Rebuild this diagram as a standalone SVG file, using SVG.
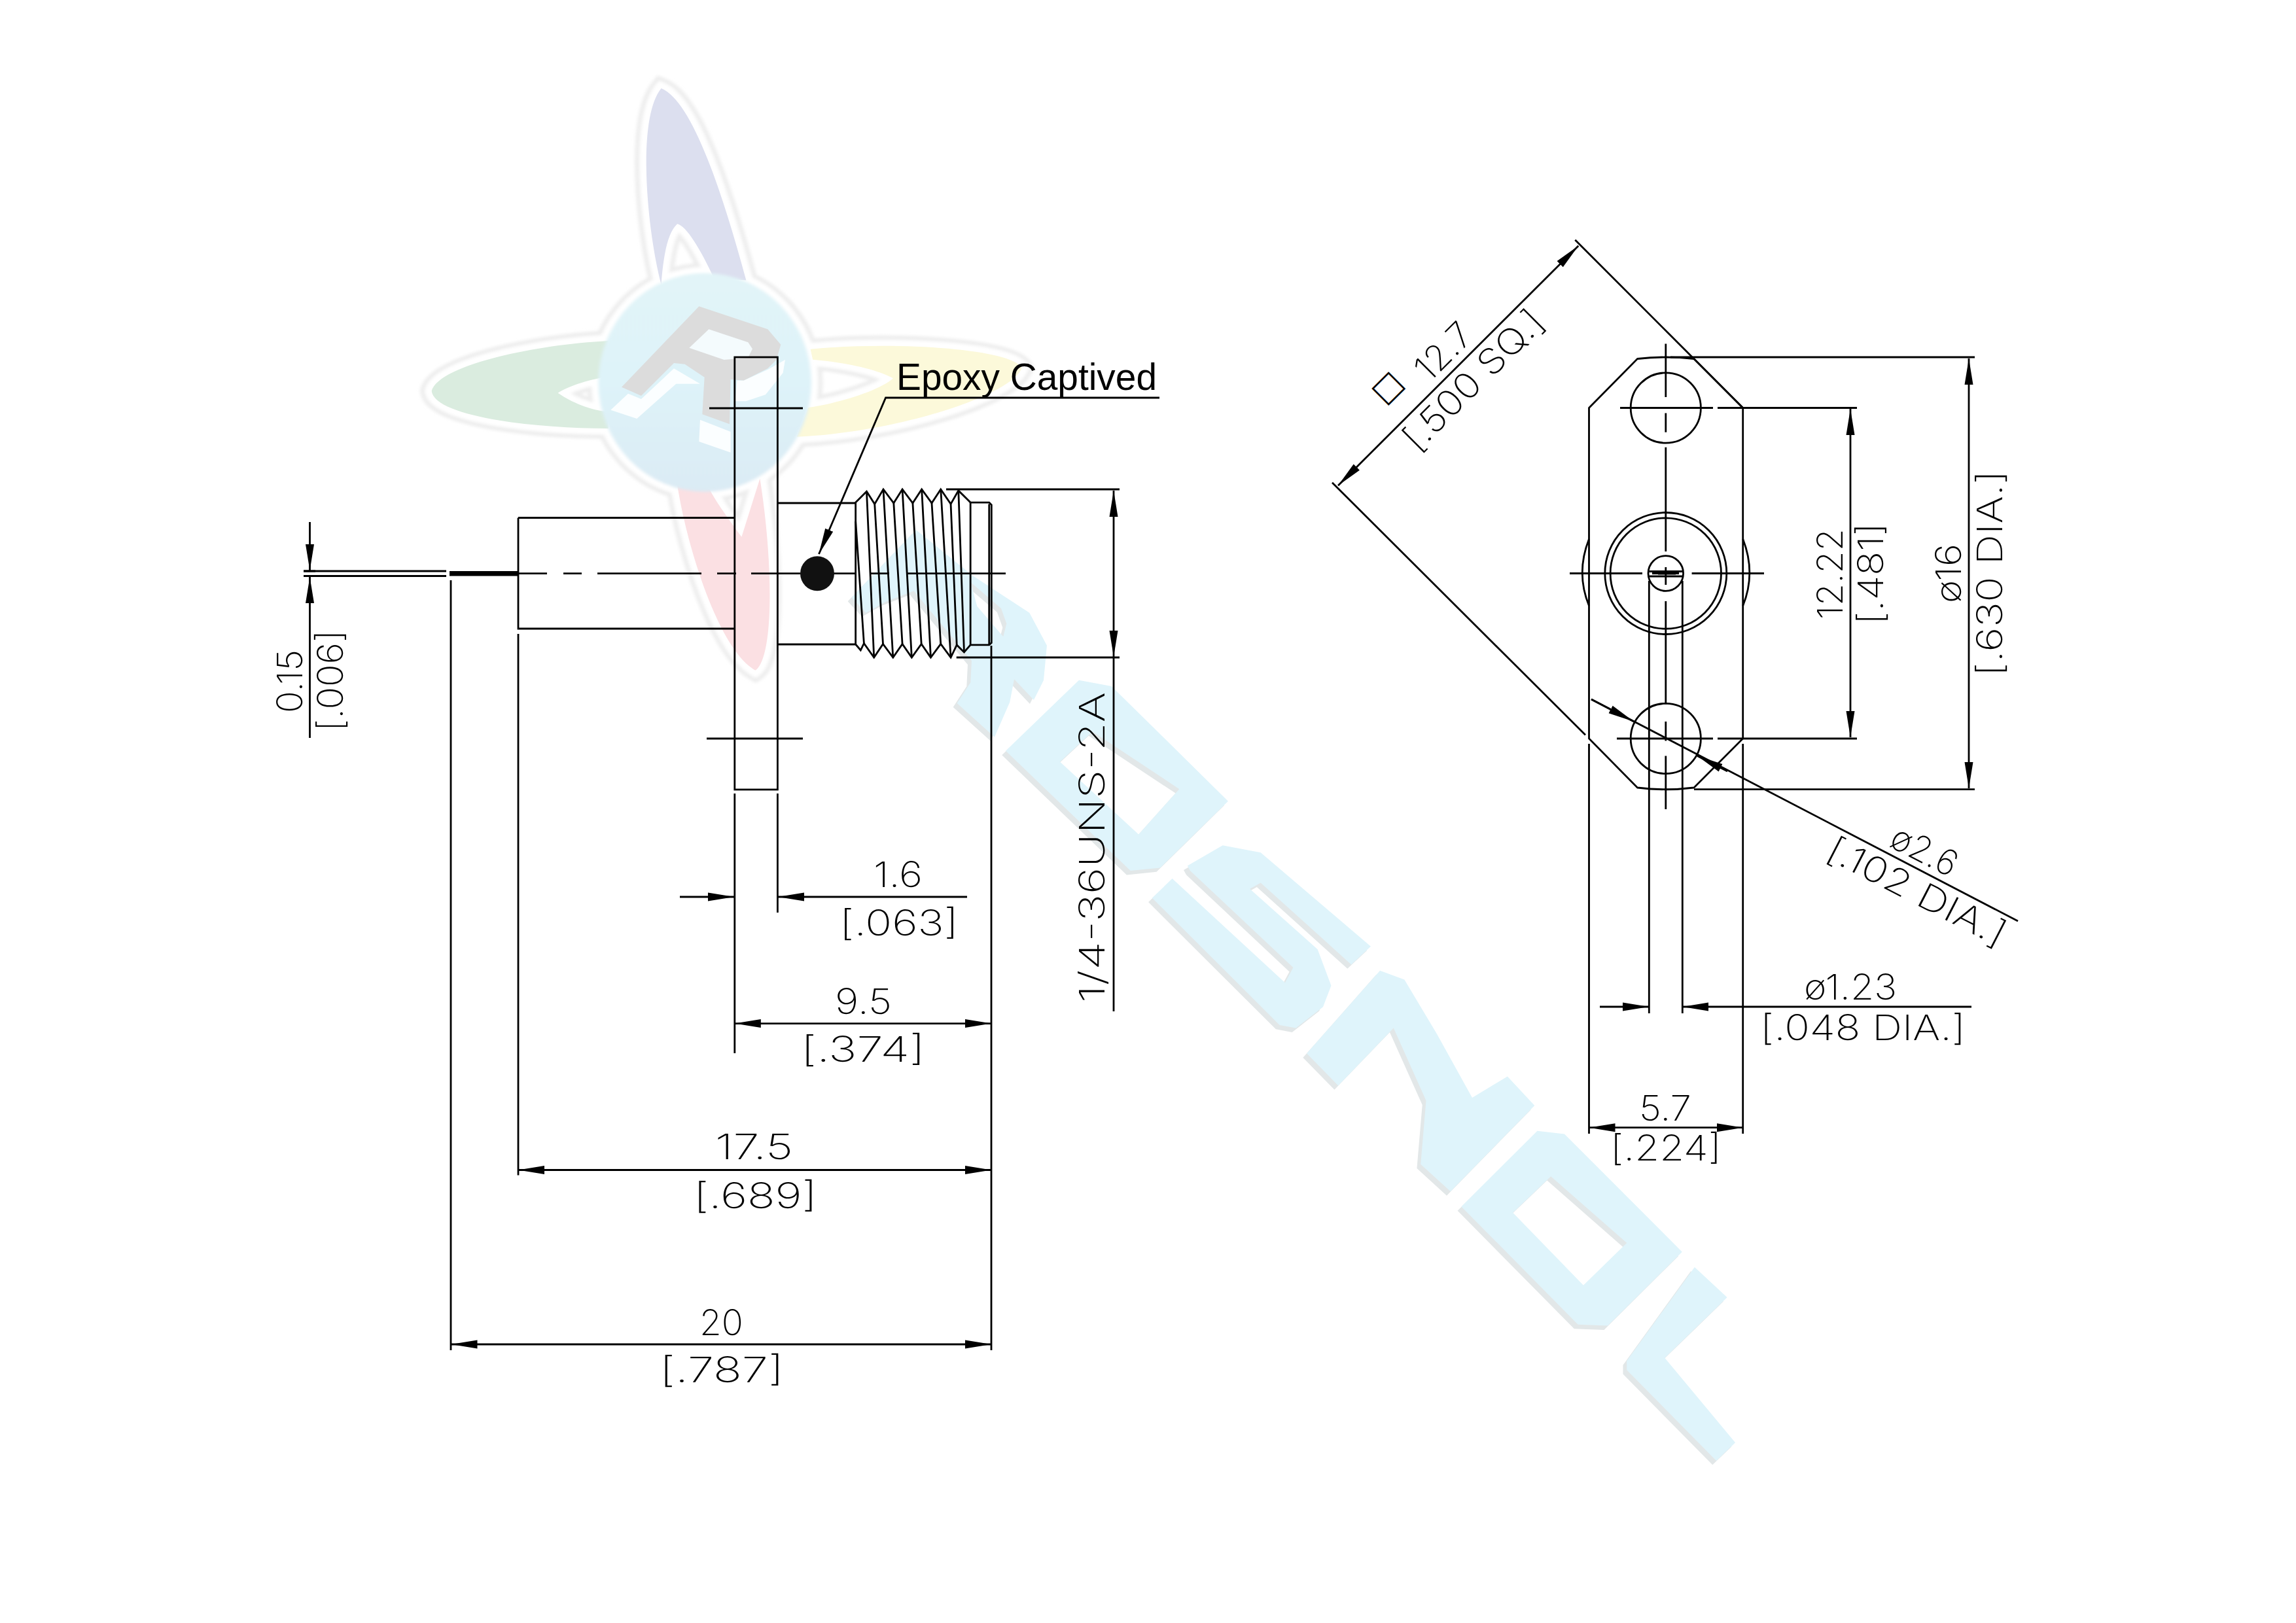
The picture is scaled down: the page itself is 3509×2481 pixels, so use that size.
<svg xmlns="http://www.w3.org/2000/svg" xmlns:xlink="http://www.w3.org/1999/xlink" width="3509" height="2481" viewBox="0 0 3509 2481">
<style>
.l{stroke:#000;stroke-width:2.8;fill:none}
.a{marker-end:url(#ah)}
.s{marker-start:url(#ah)}
.b{marker-start:url(#ah);marker-end:url(#ah)}
.t{font-family:Inter,Roboto,"Liberation Sans",sans-serif;font-weight:200;font-size:54px;fill:#000}
.e{font-family:"Liberation Sans",Arial,sans-serif;font-size:57px;fill:#000}
.v{vector-effect:non-scaling-stroke}
.o1{stroke:#eeeeee;stroke-width:50;fill:#eeeeee;vector-effect:non-scaling-stroke}
.o2{stroke:#fff;stroke-width:30;fill:#fff;vector-effect:non-scaling-stroke}
.wl{fill:#dff4fb;fill-rule:evenodd}
.ws{fill:#e2e7e8;fill-rule:evenodd}
</style>
<defs>
<marker id="ah" markerUnits="userSpaceOnUse" markerWidth="44" markerHeight="16" refX="40" refY="8" orient="auto-start-reverse" viewBox="0 0 44 16"><path d="M0 1.5L40 8L0 14.5z" fill="#000"/></marker>
<filter id="soft" x="-5%" y="-5%" width="110%" height="110%"><feGaussianBlur stdDeviation="3.5"/></filter>
<linearGradient id="ball" x1="0" y1="0" x2="0" y2="1"><stop offset="0" stop-color="#e2f4f8"/><stop offset=".5" stop-color="#def3f9"/><stop offset="1" stop-color="#dbebf4"/></linearGradient>
<g id="logo"><path id="p1" d="M585 55C640 80 700 230 770 515L700 510C670 440 640 385 620 380C600 400 590 450 585 525C555 400 530 130 585 55Z"/><path id="p2" d="M470 660C300 670 100 720 85 780C90 840 300 870 470 870L470 830C420 825 380 800 360 785C380 770 420 755 470 745Z"/><path id="p3" d="M910 680C1100 660 1350 680 1370 725C1350 790 1100 880 880 890L905 820C970 810 1060 780 1090 750C1050 725 970 710 915 705Z"/><path id="p4" d="M620 1005C640 1150 710 1400 790 1450C830 1420 830 1200 800 990L760 1130C740 1100 700 1040 690 1015Z"/><ellipse id="p5" cx="680" cy="760" rx="232" ry="262"/><path d="M470 870L620 1005L800 990L880 890Z"/></g>
<path id="letters" d="M105 322L240 205L300 215L515 405L390 515L335 520ZM205 340L265 290L425 385L350 460ZM440 512L505 478L575 490L778 645L742 675L575 540L555 550L680 650L705 710L690 745L640 780L610 775L375 565L412 533L620 705L635 680L445 520ZM660 822L795 685L840 700L900 790L965 895L1030 860L1080 908L925 1050L870 1005L880 900L820 780L718 875ZM945 1075L1085 950L1135 955L1352 1150L1215 1272L1160 1270ZM1040 1085L1110 1025L1250 1135L1170 1205ZM1250 1330L1375 1175L1435 1225L1320 1325L1450 1465L1415 1495L1250 1345Z"/>
<path id="letterR" d="M65 400L360 90L620 300L880 470L960 620L945 780L900 870L810 775L790 880L720 1040L548 885L610 790L615 690L540 600L350 370L220 420L130 470ZM610 330L750 450L775 520L760 580L640 440Z"/>
</defs>
<rect width="3509" height="2481" fill="#fff"/>
<g id="watermark">
<g transform="translate(600 100) scale(.7018 .6378)">
<use xlink:href="#logo" class="o1" filter="url(#soft)"/>
<use xlink:href="#logo" class="o2" filter="url(#soft)"/>
<use xlink:href="#p1" fill="#dcdfef"/>
<use xlink:href="#p2" fill="#daecdf"/>
<use xlink:href="#p3" fill="#fcf9da"/>
<use xlink:href="#p4" fill="#fbe0e3"/>
<use xlink:href="#p5" fill="url(#ball)" filter="url(#soft)"/>
</g>
<g transform="translate(880 400) scale(.3333)">
<path d="M210 575L565 205L880 310L940 380L920 450L880 490L770 545L710 540L705 745L580 700L590 530L500 470L450 465L300 615Z" fill="#dcdcdc"/>
<path d="M520 395L610 310L790 370L810 400L790 440L680 450Z" fill="#f4fbfd"/>
<path d="M160 680L240 605L300 630L450 490L570 560L460 560L280 720ZM570 725L710 780L710 875L565 825ZM770 545L880 495L960 450L950 510L870 610L780 640L730 640L740 545Z" fill="#fbfeff"/>
</g>
<g transform="translate(1450 850) scale(.829 .925)">
<use xlink:href="#letters" class="ws" transform="translate(-7 7)"/>
<use xlink:href="#letters" class="wl"/>
</g>
<g transform="translate(1280 780) scale(.3333)">
<use xlink:href="#letterR" class="ws" transform="translate(-18 18)"/>
<use xlink:href="#letterR" class="wl"/>
</g>
</g>
<g id="side-view">
<rect class="l" x="1122.8" y="546" width="65.6" height="661"/>
<path class="l" d="M1084 624H1227M1080 1129H1227M792 791.5V961H1122.8M792 791.5H1122.8M1188.4 769H1308M1188.4 985H1308"/>
<path class="l" d="M464 873H682M464 880.5H682"/>
<rect x="687" y="873" width="105" height="7.5" fill="#000"/>
<path class="l" d="M792 876.7H836M861 876.7H889M913 876.7H1072M1096 876.7H1125M1148 876.7H1223M1274 876.7H1308M1330 876.7H1359M1387 876.7H1537"/>
<ellipse cx="1249" cy="876.7" rx="26" ry="26.5" fill="#111"/>
<g transform="translate(1050 500) scale(.5102 .4787)">
<path class="l v" d="M505 560L538 525L562 565L588 518L619 562L645 518L676 562L703 518L733 562L760 518L790 565L813 522L849 560H905L912 568V1008L905 1015H849L830 1038L808 1015L790 1055L760 1012L730 1055L702 1012L673 1055L645 1012L617 1055L587 1012L560 1055L530 1010L520 1032L505 1013Z"/>
<path class="l v" d="M505 620L530 1010M538 525L560 1055M562 565L587 1012M588 518L617 1055M619 562L645 1012M645 518L673 1055M676 562L702 1012M703 518L730 1055M733 562L760 1012M760 518L790 1055M790 565L808 1015M813 522L830 1038M849 560V1015M905 565V1015"/>
</g>
</g>
<g id="front-view">
<path class="l" d="M2428.5 623.5L2502.4 548.5Q2546 543.5 2589 548.5L2663.7 623.5V1129L2589 1204Q2546 1209.5 2502.4 1204L2428.5 1129Z"/>
<circle class="l" cx="2545.8" cy="623.5" r="53.6"/>
<circle class="l" cx="2545.8" cy="1129" r="53.6"/>
<circle class="l" cx="2545.8" cy="876.5" r="93"/>
<circle class="l" cx="2545.8" cy="876.5" r="84.7"/>
<circle class="l" cx="2545.8" cy="876.5" r="26.8"/>
<path class="l" d="M2428.5 824Q2408 876 2428.5 926M2663.7 824Q2684 876 2663.7 926"/>
<path class="l" d="M2520.3 873.5H2571.3M2520.3 881H2571.3M2534 877H2561M2520.3 888V1549M2571.3 888V1549"/>
<path class="l" d="M2545.8 525.5V607M2545.8 631.6V660.7M2545.8 683.7V843M2545.8 867V894M2545.8 919V1076.5M2545.8 1103V1132.6M2545.8 1155.6V1237M2399 876.5H2510M2525 876.5H2566M2585.6 876.5H2696M2476 623.5H2618M2471 1129H2618"/>
</g>
<g id="connectors">
<path class="l" d="M1446 748H1711M1461.7 1005H1711M1515 987V2064M689 887V2064M792 969V1796.5M1122.8 1213V1610M1188.4 1213V1395"/>
<path class="l a" d="M473.5 798V872"/>
<path class="l s" d="M473.5 882V1128"/>
<path class="l" d="M464 873H482M464 880.5H482"/>
<path class="l b" d="M1702 750V1004"/>
<path class="l" d="M1702 1004V1546"/>
<path class="l a" d="M1039 1371H1122"/>
<path class="l s" d="M1189 1371H1478"/>
<path class="l b" d="M1122.8 1564.6H1515"/>
<path class="l b" d="M792 1788.5H1515"/>
<path class="l b" d="M689.5 2055H1515"/>
<path class="l a" d="M1772 608H1353.6L1251.5 847"/>
<path class="l" d="M2625 623.5H2838M2625 1129H2838M2553 546H3018M2589 1206.6H3018"/>
<path class="l b" d="M2828 625V1127"/>
<path class="l b" d="M3009 548V1205"/>
<path class="l" d="M2407.3 366.7L2663.7 623.5M2036 737.7L2423 1123.5"/>
<path class="l b" d="M2412.3 375.7L2045 742.3"/>
<path class="l" d="M2432 1069L3084 1408"/>
<path class="l a" d="M2432 1069L2497 1103"/>
<path class="l s" d="M2594 1155.6L2640 1179"/>
<path class="l" d="M2428.5 1137V1733M2663.7 1137V1733"/>
<path class="l a" d="M2445 1539H2520"/>
<path class="l s" d="M2571.3 1539H3013"/>
<path class="l b" d="M2428.5 1723.7H2663.7"/>
</g>
<g id="labels">
<text class="e" x="1370" y="595.7" textLength="398" lengthAdjust="spacingAndGlyphs">Epoxy Captived</text>
<text class="t" transform="translate(462 1090) rotate(-90)" textLength="97" lengthAdjust="spacingAndGlyphs">0.15</text>
<text class="t" transform="translate(524 1118) rotate(-90)" textLength="155" lengthAdjust="spacingAndGlyphs">[.006]</text>
<text class="t" transform="translate(1688 1533) rotate(-90)" textLength="475" lengthAdjust="spacingAndGlyphs">1/4-36UNS-2A</text>
<text class="t" x="1335" y="1356" textLength="75" lengthAdjust="spacingAndGlyphs">1.6</text>
<text class="t" x="1283" y="1430" textLength="182" lengthAdjust="spacingAndGlyphs">[.063]</text>
<text class="t" x="1276" y="1550" textLength="87" lengthAdjust="spacingAndGlyphs">9.5</text>
<text class="t" x="1224" y="1623" textLength="190" lengthAdjust="spacingAndGlyphs">[.374]</text>
<text class="t" x="1093" y="1772" textLength="119" lengthAdjust="spacingAndGlyphs">17.5</text>
<text class="t" x="1060" y="1847" textLength="189" lengthAdjust="spacingAndGlyphs">[.689]</text>
<text class="t" x="1069" y="2040.5" textLength="67" lengthAdjust="spacingAndGlyphs">20</text>
<text class="t" x="1008" y="2113" textLength="190" lengthAdjust="spacingAndGlyphs">[.787]</text>
<text class="t" transform="translate(2816 947) rotate(-90)" textLength="139" lengthAdjust="spacingAndGlyphs">12.22</text>
<text class="t" transform="translate(2877.5 955) rotate(-90)" textLength="156" lengthAdjust="spacingAndGlyphs">[.481]</text>
<text class="t" transform="translate(2997 922) rotate(-90)" textLength="91" lengthAdjust="spacingAndGlyphs">ø16</text>
<text class="t" transform="translate(3060 1034) rotate(-90)" textLength="315" lengthAdjust="spacingAndGlyphs">[.630 DIA.]</text>
<text transform="translate(2115 619) rotate(-45)" style="font-family:'DejaVu Sans',sans-serif;font-size:48px;fill:#000">□</text>
<text class="t" transform="translate(2184 586) rotate(-45)" textLength="100" lengthAdjust="spacingAndGlyphs">12.7</text>
<text class="t" transform="translate(2166 692.5) rotate(-45)" textLength="279" lengthAdjust="spacingAndGlyphs">[.500 SQ.]</text>
<text class="t" transform="translate(2885 1293) rotate(27)" textLength="107" lengthAdjust="spacingAndGlyphs">ø2.6</text>
<text class="t" transform="translate(2788 1311) rotate(27.2)" textLength="299" lengthAdjust="spacingAndGlyphs">[.102 DIA.]</text>
<text class="t" x="2757" y="1528" textLength="142" lengthAdjust="spacingAndGlyphs">ø1.23</text>
<text class="t" x="2690" y="1590" textLength="314" lengthAdjust="spacingAndGlyphs">[.048 DIA.]</text>
<text class="t" x="2505" y="1712.6" textLength="80" lengthAdjust="spacingAndGlyphs">5.7</text>
<text class="t" x="2461" y="1774" textLength="170" lengthAdjust="spacingAndGlyphs">[.224]</text>
</g>
</svg>
